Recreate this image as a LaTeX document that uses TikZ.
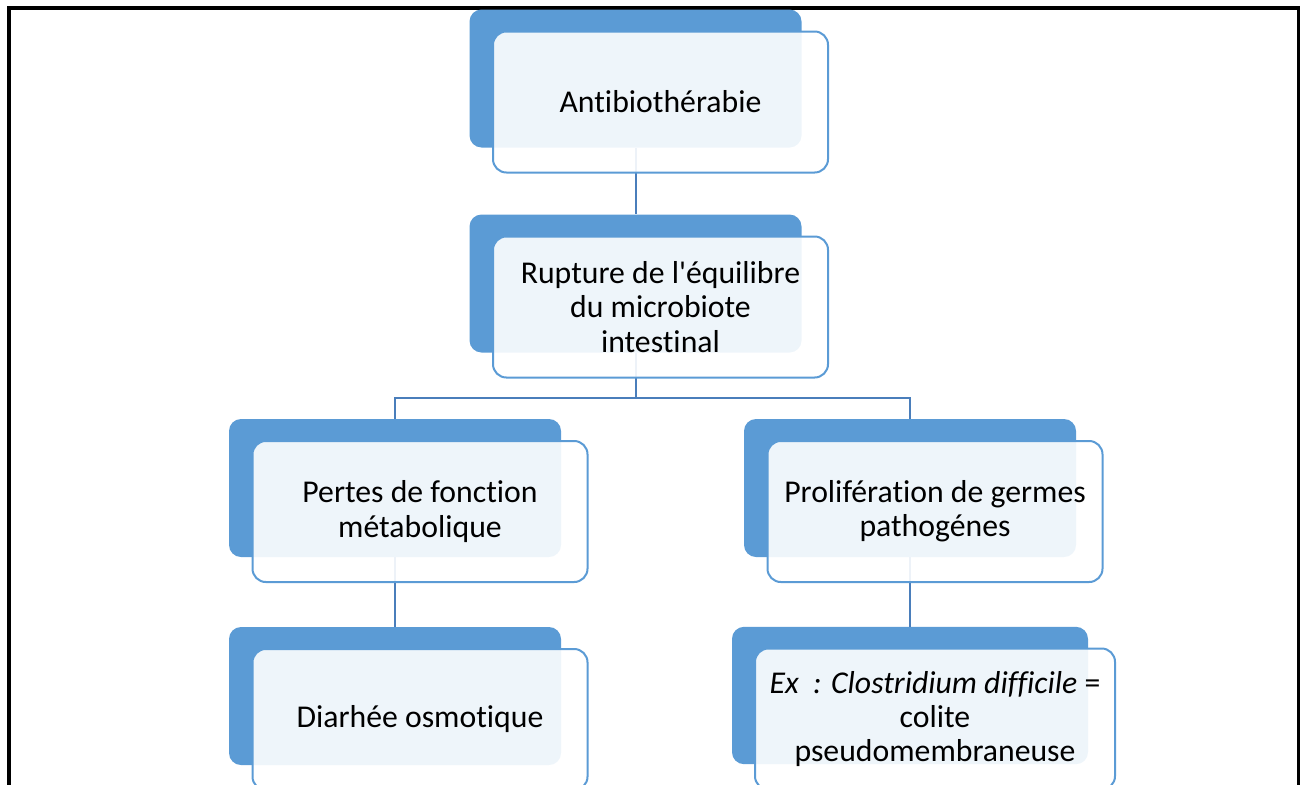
\documentclass[tikz,border=0pt]{standalone}
\usepackage{fontspec}
\newfontfamily\boxfont{Carlito}[Ligatures=NoCommon]
\usepackage{tikz}
\usetikzlibrary{calc}
\definecolor{boxblue}{HTML}{5B9BD5}
\definecolor{linkblue}{HTML}{4A7EBB}

\begin{document}
\begin{tikzpicture}[x=0.75pt, y=-0.75pt,
  back/.style={rectangle, rounded corners=9pt, fill=boxblue, inner sep=0pt,
    minimum width=249pt, minimum height=103.5pt},
  front/.style={rectangle, rounded corners=10pt, draw=boxblue, line width=1.5pt,
    fill=white, fill opacity=0.9, text opacity=1, inner sep=0pt, align=center,
    minimum width=251.25pt, minimum height=105.75pt,
    font=\boxfont\fontsize{23.8}{25.8}\selectfont},
  link/.style={draw=linkblue, line width=1.5pt}]

\useasboundingbox (0,0) rectangle (1306,785);
\clip (0,0) rectangle (1306,785);

% page frame
\draw [line width=2.5pt] (9,800) -- (9,8) -- (1298.5,8) -- (1298.5,800);

% blue back boxes
\node [back] (anti) at (635.5,78.5) {};
\node [back] (rupt) at (635.5,283.5) {};
\node [back] (pertes) at (395,488) {};
\node [back] (prolif) at (910,488) {};
\node [back] (diarr) at (395,696) {};
\node [back, minimum width=267pt, minimum height=103pt] (clost) at (910,695.5) {};

% links
\draw [link] (anti.south) -- (rupt.north);
\draw [link] (rupt.south) -- ++(0,45) -| (pertes.north);
\draw [link] (rupt.south) -- ++(0,45) -| (prolif.north);
\draw [link] (pertes.south) -- (diarr.north);
\draw [link] (prolif.south) -- (clost.north);

% text boxes
\node [front] (antiT) at ($(anti)+(25,23.5)$) {Antibioth\'erabie};
\node [front] (ruptT) at ($(rupt)+(25,23.5)$) {Rupture de l'\'equilibre\\du microbiote\\intestinal};
\node [front] (pertesT) at ($(pertes)+(25,23.5)$) {Pertes de fonction\\m\'etabolique};
\node [front] (prolifT) at ($(prolif)+(25,23.5)$) {Prolif\'eration de germes\\pathog\'enes};
\node [front] (diarrT) at ($(diarr)+(25,23.5)$) {Diarh\'ee osmotique};
\node [front, minimum width=270pt] (clostT) at ($(clost)+(25,23.5)$)
  {\itshape Ex~~: Clostridium difficile\/ \upshape =\\colite\\pseudomembraneuse};

\end{tikzpicture}
\end{document}
